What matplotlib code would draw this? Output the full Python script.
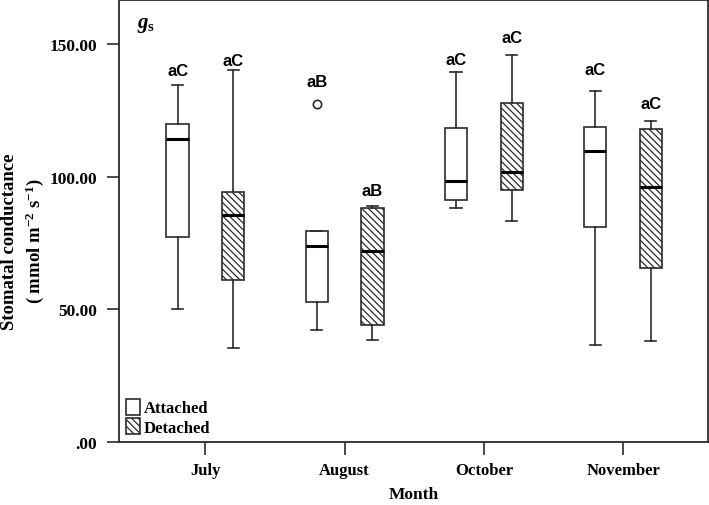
import numpy as np
import matplotlib
matplotlib.use('Agg')
import matplotlib.pyplot as plt
from matplotlib.patches import Patch

months = ['July', 'August', 'October', 'November']
groups = ['Attached', 'Detached']

# box stats (mmol m-2 s-1)
att_whislo = [50.1, 42.1, 88.2, 36.7]
att_q1 = [77.1, 52.9, 91.1, 80.9]
att_med = [114.1, 74.0, 98.2, 109.5]
att_q3 = [119.8, 79.4, 118.3, 118.8]
att_whishi = [134.3, 79.4, 139.3, 132.4]
att_fliers = [[], [127.2], [], []]

det_whislo = [35.5, 38.5, 83.2, 38.2]
det_q1 = [61.2, 44.2, 94.8, 65.4]
det_med = [85.5, 71.9, 101.8, 96.0]
det_q3 = [94.3, 88.2, 127.6, 117.9]
det_whishi = [140.3, 89.0, 145.6, 121.1]
det_fliers = [[], [], [], []]

att_letters = ['aC', 'aB', 'aC', 'aC']
det_letters = ['aC', 'aB', 'aC', 'aC']
att_letter_y = [139.8, 135.8, 144.0, 140.2]
det_letter_y = [143.9, 94.6, 152.5, 127.6]

yticks = [0, 50, 100, 150]
ytick_labels = ['.00', '50.00', '100.00', '150.00']

serif = 'Liberation Serif'
sans = 'Liberation Sans'
edge = '#2b2b2b'

plt.rcParams['mathtext.fontset'] = 'custom'
plt.rcParams['mathtext.rm'] = 'Liberation Serif:bold'
plt.rcParams['mathtext.bf'] = 'Liberation Serif:bold'
plt.rcParams['mathtext.it'] = 'Liberation Serif:italic:bold'
plt.rcParams['hatch.linewidth'] = 0.9
plt.rcParams['hatch.color'] = edge

fig = plt.figure(figsize=(7.09, 5.06), dpi=100)
ax = fig.add_axes([0.168, 0.1245, 0.8306, 0.8735])

def stats(lo, q1, med, q3, hi, fl):
    return [dict(whislo=lo[i], q1=q1[i], med=med[i], q3=q3[i], whishi=hi[i],
                 fliers=fl[i]) for i in range(len(lo))]

x = np.arange(len(months))
off = 0.2
w = 0.16
common = dict(widths=w, patch_artist=True, showfliers=True,
              whiskerprops=dict(color=edge, lw=1.2),
              capprops=dict(color=edge, lw=1.2),
              medianprops=dict(color='black', lw=2.2),
              flierprops=dict(marker='o', markerfacecolor='white',
                              markeredgecolor=edge, markersize=6, mew=1.2))

b1 = ax.bxp(stats(att_whislo, att_q1, att_med, att_q3, att_whishi, att_fliers),
            positions=x - off, **common)
b2 = ax.bxp(stats(det_whislo, det_q1, det_med, det_q3, det_whishi, det_fliers),
            positions=x + off, **common)
for b in b1['boxes']:
    b.set_facecolor('white'); b.set_edgecolor(edge); b.set_linewidth(1.2)
for b in b2['boxes']:
    b.set_facecolor('white'); b.set_edgecolor(edge); b.set_linewidth(1.2)
    b.set_hatch('\\\\\\\\\\')

for i in range(len(months)):
    ax.text(x[i] - off, att_letter_y[i], att_letters[i], ha='center', va='center',
            fontsize=12, fontweight='bold', family=sans)
    ax.text(x[i] + off, det_letter_y[i], det_letters[i], ha='center', va='center',
            fontsize=12, fontweight='bold', family=sans)

ax.set_xlim(-0.62, 3.61)
ax.set_ylim(0, 166.5)
ax.set_xticks(x)
ax.set_xticklabels(months, fontsize=12, fontweight='bold', family=serif)
ax.set_yticks(yticks)
ax.set_yticklabels(ytick_labels, fontsize=12.5, fontweight='bold', family=serif)
ax.tick_params(axis='both', direction='out', length=9, width=1.2, color=edge, pad=7)
ax.tick_params(axis='x', pad=5.5)
for s in ax.spines.values():
    s.set_color(edge)
    s.set_linewidth(1.3)

fig.text(0.583, 0.022, 'Month', ha='center', va='center',
         fontsize=12.5, fontweight='bold', family=serif)
fig.text(0.014, 0.523, 'Stomatal conductance', rotation=90, ha='center', va='center',
         fontsize=13.5, fontweight='bold', family=serif)
fig.text(0.049, 0.523, r'( mmol m$^{-2}$ s$^{-1}$)', rotation=90,
         ha='center', va='center', fontsize=13.5, fontweight='bold', family=serif)

ax.text(0.03, 0.945, r'$g_{\mathrm{s}}$', transform=ax.transAxes, fontsize=15,
        va='center')

handles = [Patch(facecolor='white', edgecolor=edge, lw=1.2),
           Patch(facecolor='white', edgecolor=edge, lw=1.2, hatch='\\\\\\\\\\')]
ax.legend(handles, groups, loc='lower left', frameon=False,
          prop=dict(family=serif, weight='bold', size=12),
          handlelength=0.85, handleheight=1.1, handletextpad=0.2,
          labelspacing=0.1, borderaxespad=0.3, bbox_to_anchor=(-0.008, -0.012))

fig.savefig('out.png', dpi=100)
